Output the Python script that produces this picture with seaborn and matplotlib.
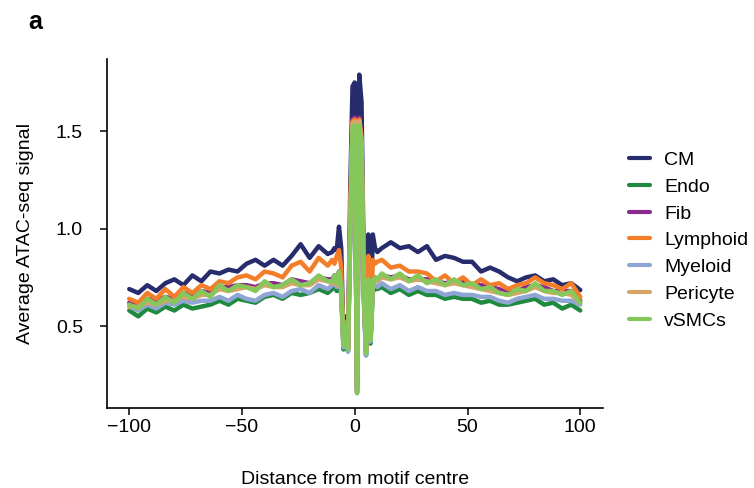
import pandas as pd
import matplotlib
matplotlib.use("Agg")
import matplotlib.pyplot as plt
from matplotlib.lines import Line2D
import seaborn as sns

# distance from motif centre: coarse on the flanks, every position near the centre
distance = list(range(-100, -11, 4)) + list(range(-10, 11)) + list(range(12, 101, 4))

cell_types = ["CM", "Endo", "Fib", "Lymphoid", "Myeloid", "Pericyte", "vSMCs"]
colours = ["#272c6c", "#1f8a3e", "#8a2a8e", "#f47d2a", "#8ea5d6", "#d8a467", "#86c75b"]

cm = [0.69, 0.67, 0.71, 0.68, 0.72, 0.74, 0.71, 0.76, 0.73, 0.78, 0.77, 0.79, 0.78, 0.82, 0.84, 0.81, 0.84, 0.81, 0.86, 0.92, 0.85, 0.91, 0.87,
      0.88, 0.90, 0.89, 1.01, 0.90, 0.42, 0.55, 0.40, 1.20, 1.73, 1.75, 0.20, 1.79, 1.65, 0.80, 0.38, 0.97, 0.50, 0.97, 0.90, 0.88,
      0.90, 0.93, 0.90, 0.91, 0.88, 0.91, 0.84, 0.86, 0.85, 0.83, 0.83, 0.78, 0.80, 0.78, 0.75, 0.73, 0.75, 0.76, 0.73, 0.74, 0.71, 0.72, 0.685]
endo = [0.58, 0.55, 0.59, 0.57, 0.60, 0.58, 0.61, 0.59, 0.60, 0.61, 0.63, 0.61, 0.64, 0.63, 0.62, 0.65, 0.66, 0.64, 0.67, 0.66, 0.67, 0.69, 0.67,
        0.69, 0.71, 0.68, 0.72, 0.66, 0.38, 0.48, 0.37, 0.96, 1.49, 1.50, 0.16, 1.50, 1.39, 0.64, 0.35, 0.69, 0.41, 0.68, 0.69, 0.69,
        0.70, 0.67, 0.69, 0.66, 0.68, 0.66, 0.66, 0.64, 0.65, 0.64, 0.64, 0.62, 0.63, 0.61, 0.61, 0.62, 0.63, 0.64, 0.61, 0.62, 0.59, 0.61, 0.58]
fib = [0.62, 0.61, 0.64, 0.63, 0.65, 0.64, 0.67, 0.66, 0.68, 0.67, 0.70, 0.70, 0.71, 0.71, 0.70, 0.72, 0.72, 0.71, 0.74, 0.73, 0.72, 0.75, 0.74,
       0.74, 0.76, 0.73, 0.78, 0.71, 0.40, 0.51, 0.38, 1.02, 1.56, 1.57, 0.16, 1.57, 1.45, 0.69, 0.37, 0.75, 0.44, 0.74, 0.75, 0.74,
       0.76, 0.75, 0.76, 0.74, 0.74, 0.74, 0.73, 0.72, 0.73, 0.73, 0.71, 0.71, 0.70, 0.69, 0.67, 0.68, 0.70, 0.71, 0.70, 0.68, 0.68, 0.68, 0.63]
lymphoid = [0.64, 0.62, 0.67, 0.64, 0.69, 0.65, 0.70, 0.67, 0.71, 0.69, 0.73, 0.72, 0.75, 0.76, 0.74, 0.78, 0.77, 0.75, 0.81, 0.83, 0.78, 0.85, 0.81,
            0.84, 0.82, 0.86, 0.89, 0.80, 0.41, 0.52, 0.39, 1.10, 1.55, 1.56, 0.17, 1.56, 1.47, 0.72, 0.37, 0.86, 0.45, 0.84, 0.82, 0.83,
            0.84, 0.80, 0.81, 0.78, 0.78, 0.77, 0.73, 0.76, 0.72, 0.75, 0.71, 0.74, 0.71, 0.72, 0.69, 0.71, 0.72, 0.75, 0.72, 0.71, 0.69, 0.72, 0.65]
myeloid = [0.60, 0.58, 0.61, 0.59, 0.62, 0.61, 0.63, 0.62, 0.63, 0.63, 0.65, 0.63, 0.66, 0.64, 0.63, 0.66, 0.67, 0.65, 0.68, 0.69, 0.67, 0.71, 0.69,
           0.71, 0.72, 0.70, 0.74, 0.68, 0.39, 0.49, 0.37, 0.98, 1.50, 1.51, 0.16, 1.51, 1.40, 0.66, 0.35, 0.71, 0.42, 0.70, 0.71, 0.70,
           0.72, 0.69, 0.71, 0.68, 0.70, 0.68, 0.68, 0.66, 0.67, 0.66, 0.66, 0.65, 0.65, 0.63, 0.62, 0.64, 0.65, 0.66, 0.64, 0.64, 0.63, 0.63, 0.61]
pericyte = [0.60, 0.60, 0.62, 0.61, 0.63, 0.63, 0.65, 0.64, 0.66, 0.66, 0.69, 0.68, 0.69, 0.70, 0.69, 0.71, 0.70, 0.70, 0.72, 0.71, 0.71, 0.74, 0.73,
            0.72, 0.75, 0.71, 0.77, 0.69, 0.41, 0.50, 0.39, 1.00, 1.54, 1.55, 0.16, 1.55, 1.44, 0.67, 0.37, 0.73, 0.44, 0.72, 0.74, 0.73,
            0.75, 0.74, 0.75, 0.73, 0.74, 0.73, 0.72, 0.71, 0.72, 0.71, 0.70, 0.69, 0.68, 0.67, 0.66, 0.67, 0.68, 0.70, 0.68, 0.67, 0.67, 0.66, 0.62]
vsmcs = [0.61, 0.59, 0.64, 0.61, 0.65, 0.62, 0.67, 0.64, 0.68, 0.65, 0.71, 0.68, 0.71, 0.70, 0.68, 0.73, 0.70, 0.71, 0.74, 0.71, 0.72, 0.76, 0.73,
         0.73, 0.76, 0.72, 0.78, 0.70, 0.40, 0.50, 0.38, 1.00, 1.52, 1.53, 0.155, 1.53, 1.42, 0.68, 0.36, 0.74, 0.43, 0.73, 0.75, 0.74,
         0.77, 0.74, 0.77, 0.73, 0.76, 0.72, 0.74, 0.71, 0.74, 0.71, 0.72, 0.69, 0.70, 0.67, 0.66, 0.69, 0.68, 0.72, 0.68, 0.68, 0.66, 0.68, 0.62]

signals = [cm, endo, fib, lymphoid, myeloid, pericyte, vsmcs]

# long-form table for seaborn
frames = []
for name, vals in zip(cell_types, signals):
    frames.append(pd.DataFrame({"distance": distance, "signal": vals, "cell": name}))
df = pd.concat(frames, ignore_index=True)

sns.set_style("ticks")
plt.rcParams["font.family"] = ["Liberation Sans", "DejaVu Sans"]
plt.rcParams["font.size"] = 14
plt.rcParams["ytick.major.pad"] = 12
plt.rcParams["xtick.major.pad"] = 3
for key in ["text.color", "axes.labelcolor", "xtick.color", "ytick.color"]:
    plt.rcParams[key] = "black"

fig = plt.figure(figsize=(7.54, 4.88), dpi=100)
ax = fig.add_axes([0.1415, 0.164, 0.658, 0.715])

sns.lineplot(data=df, x="distance", y="signal", hue="cell", hue_order=cell_types,
             palette=colours, linewidth=3.2, estimator=None, legend=False, ax=ax)

ax.set_xlim(-110, 110)
ax.set_ylim(0.08, 1.87)
ax.set_xticks([-100, -50, 0, 50, 100])
ax.set_yticks([0.5, 1.0, 1.5])
ax.set_xlabel("Distance from motif centre", fontsize=14, labelpad=25)
ax.set_ylabel("Average ATAC-seq signal", fontsize=14, labelpad=16)
ax.tick_params(labelsize=14, width=1.1, length=5)
sns.despine(ax=ax)
for side in ["left", "bottom"]:
    ax.spines[side].set_linewidth(1.2)
    ax.spines[side].set_color("black")

handles = [Line2D([], [], color=c, lw=3) for c in colours]
ax.legend(handles, cell_types, loc="center left", bbox_to_anchor=(1.0175, 0.48),
          frameon=False, fontsize=14, handlelength=1.1, handletextpad=0.7, labelspacing=0.47)

fig.text(0.038, 0.955, "a", fontsize=18, fontweight="bold", va="center")

fig.savefig("out.png", dpi=100)
